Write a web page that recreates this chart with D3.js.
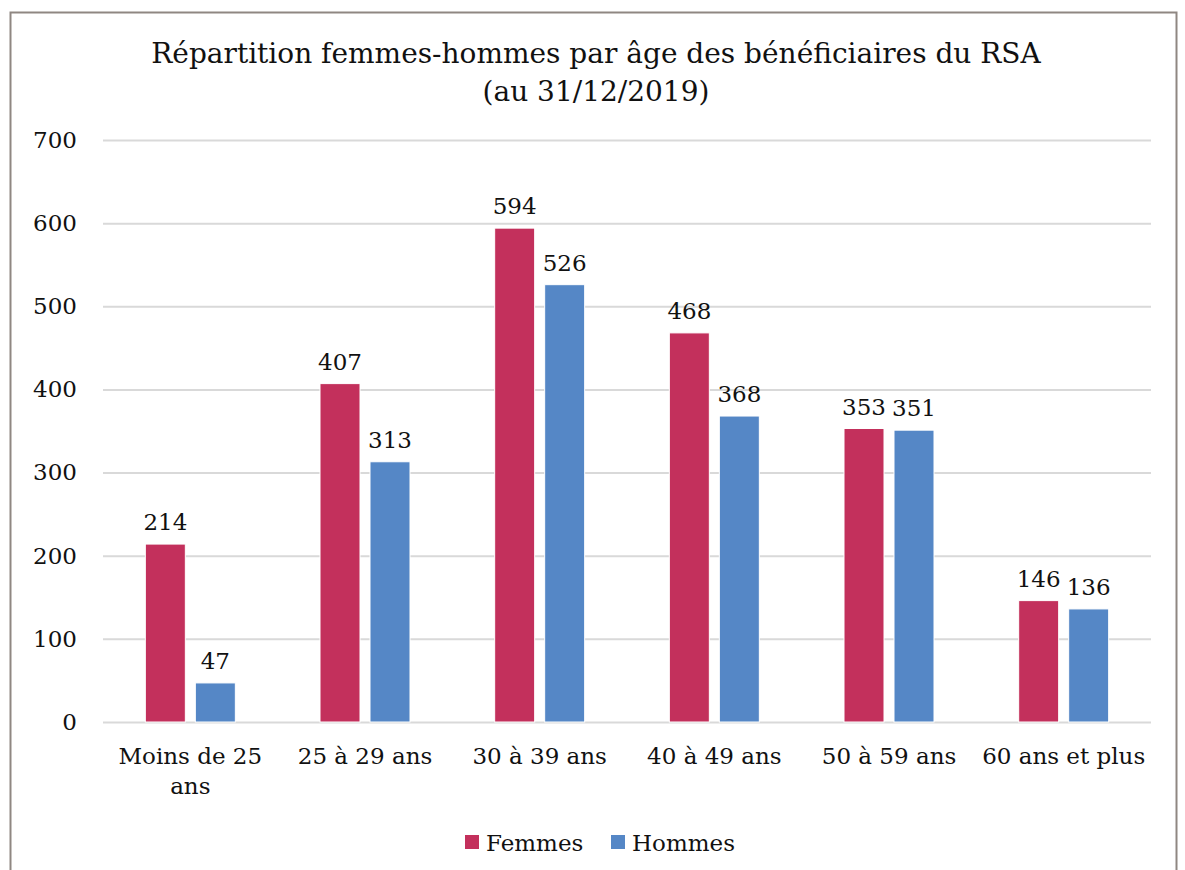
<!DOCTYPE html>
<html>
<head>
<meta charset="utf-8">
<script src="https://cdn.jsdelivr.net/npm/d3@7"></script>
<style>
  body { margin: 0; background: #fff; }
  text { font-family: "DejaVu Serif", serif; fill: #111; }
</style>
</head>
<body>
<script>
const categories = ['Moins de 25 ans', '25 à 29 ans', '30 à 39 ans', '40 à 49 ans', '50 à 59 ans', '60 ans et plus'];
const femmes = [214, 407, 594, 468, 353, 146];
const hommes = [47, 313, 526, 368, 351, 136];
const seriesNames = ['Femmes', 'Hommes'];
const seriesColors = ['#c3305c', '#5587c6'];
const yTicks = [0, 100, 200, 300, 400, 500, 600, 700];

let width = 1185,
    height = 870;

let svg = d3.select('body').append('svg')
    .attr('width', width)
    .attr('height', height);

// chart border
svg.append('rect')
    .attr('x', 10.5).attr('y', 12.5)
    .attr('width', 1166).attr('height', 870)
    .attr('fill', '#fff')
    .attr('stroke', '#8f8782')
    .attr('stroke-width', 2);

svg.append('text')
    .attr('x', 596).attr('y', 63)
    .attr('text-anchor', 'middle')
    .style('font-size', '28px')
    .text('Répartition femmes-hommes par âge des bénéficiaires du RSA');
svg.append('text')
    .attr('x', 596).attr('y', 101)
    .attr('text-anchor', 'middle')
    .style('font-size', '28px')
    .text('(au 31/12/2019)');

let x0 = d3.scaleBand().domain(categories).range([103, 1151]);
let y = d3.scaleLinear().domain([0, 700]).range([722, 140]);

// grid
svg.append('g')
    .selectAll('line')
    .data(yTicks)
    .join('line')
    .attr('x1', 103).attr('x2', 1151)
    .attr('y1', d => y(d) + 0.5).attr('y2', d => y(d) + 0.5)
    .attr('stroke', '#d9d9d9')
    .attr('stroke-width', 2);

let yAxis = svg.append('g')
    .attr('transform', 'translate(77,0)')
    .call(d3.axisLeft(y).tickValues(yTicks).tickSize(0).tickPadding(0));
yAxis.select('.domain').remove();
yAxis.selectAll('text')
    .style('font-size', '23px')
    .style('font-family', '"DejaVu Serif", serif')
    .attr('fill', '#111');

let barW = 40, gap = 10;
let data = categories.map((c, i) => ({ cat: c, vals: [femmes[i], hommes[i]] }));

let groups = svg.append('g').selectAll('g')
    .data(data)
    .join('g')
    .attr('transform', d => `translate(${x0(d.cat) + x0.bandwidth() / 2},0)`);

groups.selectAll('rect')
    .data(d => d.vals)
    .join('rect')
    .attr('x', (v, j) => j === 0 ? -barW - gap / 2 : gap / 2)
    .attr('y', v => y(v))
    .attr('width', barW)
    .attr('height', v => y(0) - y(v))
    .attr('fill', (v, j) => seriesColors[j])
    .attr('stroke', '#fff')
    .attr('stroke-width', 1);

groups.selectAll('text.val')
    .data(d => d.vals)
    .join('text')
    .attr('class', 'val')
    .attr('x', (v, j) => j === 0 ? -barW / 2 - gap / 2 : barW / 2 + gap / 2)
    .attr('y', v => y(v) - 14)
    .attr('text-anchor', 'middle')
    .style('font-size', '23px')
    .text(v => v);

// category labels (wrap first one)
const catLines = [['Moins de 25', 'ans'], ['25 à 29 ans'], ['30 à 39 ans'], ['40 à 49 ans'], ['50 à 59 ans'], ['60 ans et plus']];
groups.append('text')
    .attr('text-anchor', 'middle')
    .style('font-size', '23px')
    .selectAll('tspan')
    .data((d, i) => catLines[i])
    .join('tspan')
    .attr('x', 0)
    .attr('y', (t, k) => 764 + k * 30)
    .text(t => t);

// legend
let legend = svg.append('g');
let legendX = [465, 611];
seriesNames.forEach((name, i) => {
    legend.append('rect')
        .attr('x', legendX[i]).attr('y', 835)
        .attr('width', 14).attr('height', 14)
        .attr('fill', seriesColors[i]);
    legend.append('text')
        .attr('x', legendX[i] + 21).attr('y', 851)
        .style('font-size', '23px')
        .text(name);
});
</script>
</body>
</html>
